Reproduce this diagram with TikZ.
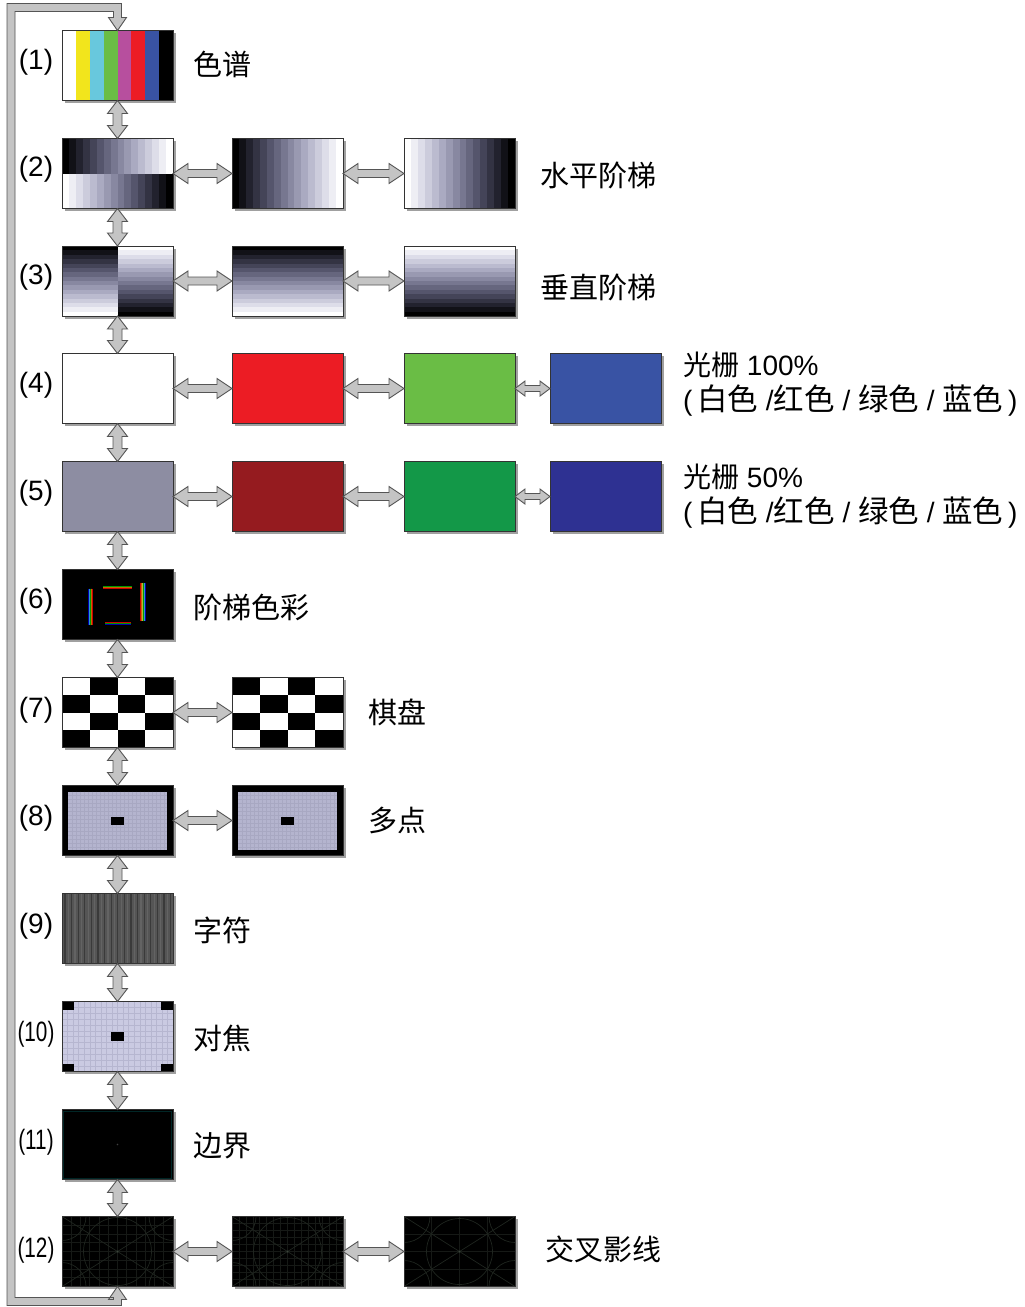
\documentclass[tikz,border=0pt]{standalone}
\usepackage{graphicx}
\usepackage{fontspec}
\setmainfont{Liberation Sans}
\newfontfamily\cjk{Noto Sans CJK SC}
\usetikzlibrary{calc}

\definecolor{arrfill}{HTML}{C4C4C4}
\definecolor{arrline}{HTML}{555555}
\definecolor{frm}{HTML}{333333}
\definecolor{shd}{HTML}{A0A0A0}
\definecolor{cbY}{HTML}{F2E51C}
\definecolor{cbC}{HTML}{68C8DD}
\definecolor{cbG}{HTML}{6ABD45}
\definecolor{cbM}{HTML}{B74F9E}
\definecolor{cbR}{HTML}{EC1C24}
\definecolor{cbB}{HTML}{3953A4}
\definecolor{hR}{HTML}{951B1F}
\definecolor{hG}{HTML}{139848}
\definecolor{hB}{HTML}{2E3192}
\definecolor{hW}{HTML}{8D8DA2}
\definecolor{lav}{HTML}{B4B4CE}
\definecolor{lavgrid}{HTML}{A8A8C2}
\definecolor{lavL}{HTML}{CACAE2}
\definecolor{lavLgrid}{HTML}{B6B6D0}
\definecolor{chG}{HTML}{555555}
\definecolor{chD}{HTML}{3A3A3A}
\definecolor{chL}{HTML}{636363}
\definecolor{xg}{HTML}{161916}
\definecolor{xc}{HTML}{1F251F}
\definecolor{xdot}{HTML}{3C463C}

\newcommand\stepcol[1]{\pgfmathsetmacro\tR{#1}\pgfmathsetmacro\tB{min(1,\tR+0.4*\tR*(1-\tR))}\definecolor{stc}{rgb}{\tR,\tR,\tB}}

\newcommand\varr[2]{\draw[fat] let \p1=(#1),\p2=(#2) in (\x1,\y1) -- (\x1+10pt,\y1-13pt) -- (\x1+4.5pt,\y1-13pt) -- (\x1+4.5pt,\y2+13pt) -- (\x1+10pt,\y2+13pt) -- (\x1,\y2) -- (\x1-10pt,\y2+13pt) -- (\x1-4.5pt,\y2+13pt) -- (\x1-4.5pt,\y1-13pt) -- (\x1-10pt,\y1-13pt) -- cycle;}

\newcommand\harr[5]{\draw[fat] let \p1=(#1),\p2=(#2) in (\x1,\y1) -- (\x1+#3pt,\y1+#4pt) -- (\x1+#3pt,\y1+#5pt) -- (\x2-#3pt,\y1+#5pt) -- (\x2-#3pt,\y1+#4pt) -- (\x2,\y1) -- (\x2-#3pt,\y1-#4pt) -- (\x2-#3pt,\y1-#5pt) -- (\x1+#3pt,\y1-#5pt) -- (\x1+#3pt,\y1-#4pt) -- cycle;}

\newcommand\cj[1]{{\cjk\fontsize{30.5}{33}\selectfont #1}}

\begin{document}
\begin{tikzpicture}[x=1pt,y=-1pt,
  box/.style={minimum width=111pt,minimum height=70pt,inner sep=0pt,outer sep=0pt},
  fat/.style={fill=arrfill,draw=arrline,line width=0.9pt,line join=miter},
  num/.style={font=\fontsize{28}{32}\selectfont,inner sep=0pt},
  lab/.style={font=\cjk\fontsize{29}{33}\selectfont,anchor=west,inner sep=0pt},
  latlab/.style={font=\fontsize{28}{33}\selectfont,anchor=west,inner sep=0pt},
  frame/.style={draw=frm,line width=0.8pt},
  shadow/.style={fill=shd}]
\fill[white] (0,0) rectangle (1025,1307);
\useasboundingbox (0,0) rectangle (1025,1307);

% ---------- boxes (named, invisible) ----------
\node[box] (b1)  at (117.5,65.5) {};
\node[box] (b2a) at (117.5,173.5) {};
\node[box] (b2b) at (287.5,173.5) {};
\node[box] (b2c) at (459.5,173.5) {};
\node[box] (b3a) at (117.5,281) {};
\node[box] (b3b) at (287.5,281) {};
\node[box] (b3c) at (459.5,281) {};
\node[box] (b4a) at (117.5,388.5) {};
\node[box] (b4b) at (287.5,388.5) {};
\node[box] (b4c) at (459.5,388.5) {};
\node[box] (b4d) at (605.5,388.5) {};
\node[box] (b5a) at (117.5,496.5) {};
\node[box] (b5b) at (287.5,496.5) {};
\node[box] (b5c) at (459.5,496.5) {};
\node[box] (b5d) at (605.5,496.5) {};
\node[box] (b6)  at (117.5,604.5) {};
\node[box] (b7a) at (117.5,712.5) {};
\node[box] (b7b) at (287.5,712.5) {};
\node[box] (b8a) at (117.5,820.5) {};
\node[box] (b8b) at (287.5,820.5) {};
\node[box] (b9)  at (117.5,928.5) {};
\node[box] (b10) at (117.5,1036.5) {};
\node[box] (b11) at (117.5,1144.5) {};
\node[box] (b12a) at (117.5,1251.5) {};
\node[box] (b12b) at (287.5,1251.5) {};
\node[box] (b12c) at (459.5,1251.5) {};

% ---------- shadows ----------
\foreach \n in {b1,b2a,b2b,b2c,b3a,b3b,b3c,b4a,b4b,b4c,b4d,b5a,b5b,b5c,b5d,b6,b7a,b7b,b8a,b8b,b9,b10,b11,b12a,b12b,b12c}
  \fill[shadow] ($(\n.north west)+(2.5,2.5)$) rectangle ($(\n.south east)+(2.5,2.5)$);

% ---------- (1) colour bars ----------
\begin{scope}[shift={(b1.north west)}]
  \foreach \c [count=\k from 0] in {white,cbY,cbC,cbG,cbM,cbR,cbB,black}
    \fill[\c] (\k*13.875,0) rectangle (\k*13.875+14.2,70);
\end{scope}

% ---------- (2) horizontal steps ----------
\begin{scope}[shift={(b2a.north west)}]
  \foreach \i in {0,...,15}{\stepcol{\i/15}\fill[stc] (\i*6.9375,0) rectangle (\i*6.9375+7.2,35);
    \stepcol{1-\i/15}\fill[stc] (\i*6.9375,35) rectangle (\i*6.9375+7.2,70);}
\end{scope}
\begin{scope}[shift={(b2b.north west)}]
  \foreach \i in {0,...,15}{\stepcol{\i/15}\fill[stc] (\i*6.9375,0) rectangle (\i*6.9375+7.2,70);}
\end{scope}
\begin{scope}[shift={(b2c.north west)}]
  \foreach \i in {0,...,15}{\stepcol{1-\i/15}\fill[stc] (\i*6.9375,0) rectangle (\i*6.9375+7.2,70);}
\end{scope}

% ---------- (3) vertical steps ----------
\begin{scope}[shift={(b3a.north west)}]
  \foreach \i in {0,...,15}{\stepcol{\i/15}\fill[stc] (0,\i*4.375) rectangle (55.5,\i*4.375+4.6);
    \stepcol{1-\i/15}\fill[stc] (55.5,\i*4.375) rectangle (111,\i*4.375+4.6);}
\end{scope}
\begin{scope}[shift={(b3b.north west)}]
  \foreach \i in {0,...,15}{\stepcol{\i/15}\fill[stc] (0,\i*4.375) rectangle (111,\i*4.375+4.6);}
\end{scope}
\begin{scope}[shift={(b3c.north west)}]
  \foreach \i in {0,...,15}{\stepcol{1-\i/15}\fill[stc] (0,\i*4.375) rectangle (111,\i*4.375+4.6);}
\end{scope}

% ---------- (4) (5) rasters ----------
\fill[white] (b4a.north west) rectangle (b4a.south east);
\fill[cbR] (b4b.north west) rectangle (b4b.south east);
\fill[cbG] (b4c.north west) rectangle (b4c.south east);
\fill[cbB] (b4d.north west) rectangle (b4d.south east);
\fill[hW] (b5a.north west) rectangle (b5a.south east);
\fill[hR] (b5b.north west) rectangle (b5b.south east);
\fill[hG] (b5c.north west) rectangle (b5c.south east);
\fill[hB] (b5d.north west) rectangle (b5d.south east);

% ---------- (6) colour steps ----------
\begin{scope}[shift={(b6.north west)}]
  \fill[black] (0,0) rectangle (111,70);
  \foreach \c [count=\k] in {blue!70!black,cyan!80!black,green!60!black,yellow!70!black,orange!80!black,red!80!black}{
    \pgfmathsetmacro\o{(\k-3.5)*0.9}
    \draw[\c,line width=0.9pt] (28.5+\o,19) -- (28.5+\o,55);
    \draw[\c,line width=0.6pt] (41,17.5+0.5*\o) -- (70,17.5+0.5*\o);
    \draw[\c,line width=0.9pt] (81-\o,13) -- (81-\o,51);
    \draw[\c,line width=0.6pt] (43,53.5-0.5*\o) -- (69,53.5-0.5*\o);
  }
\end{scope}

% ---------- (7) checker ----------
\begin{scope}[shift={(b7a.north west)}]
  \fill[white] (0,0) rectangle (111,70);
  \foreach \r in {0,...,3}\foreach \c in {0,...,3}{
    \pgfmathtruncatemacro\parity{mod(\r+\c,2)}
    \ifnum\parity=1 \fill[black] (\c*27.75,\r*17.5) rectangle (\c*27.75+27.75,\r*17.5+17.5);\fi}
\end{scope}
\begin{scope}[shift={(b7b.north west)}]
  \fill[white] (0,0) rectangle (111,70);
  \foreach \r in {0,...,3}\foreach \c in {0,...,3}{
    \pgfmathtruncatemacro\parity{mod(\r+\c,2)}
    \ifnum\parity=0 \fill[black] (\c*27.75,\r*17.5) rectangle (\c*27.75+27.75,\r*17.5+17.5);\fi}
\end{scope}

% ---------- (8) multi point ----------
\foreach \n in {b8a,b8b}{
\begin{scope}[shift={(\n.north west)}]
  \fill[black] (0,0) rectangle (111,70);
  \fill[lav] (6,6) rectangle (105,64);
  \foreach \x in {10,14,...,102} \draw[lavgrid,line width=0.25pt] (\x,6) -- (\x,64);
  \foreach \y in {10,14,...,62} \draw[lavgrid,line width=0.25pt] (6,\y) -- (105,\y);
  \fill[black] (49,31) rectangle (62,39.5);
\end{scope}}

% ---------- (9) character ----------
\begin{scope}[shift={(b9.north west)}]
  \fill[chG] (0,0) rectangle (111,70);
  \foreach \x in {3,9.6,...,110} \draw[chD,line width=1.1pt] (\x,0) -- (\x,70);
  \foreach \x in {6.3,12.9,...,110} \draw[chL,line width=1.2pt] (\x,0) -- (\x,70);
\end{scope}

% ---------- (10) focus ----------
\begin{scope}[shift={(b10.north west)}]
  \fill[lavL] (0,0) rectangle (111,70);
  \foreach \x in {5.55,11.1,...,108} \draw[lavLgrid,line width=0.35pt] (\x,0) -- (\x,70);
  \foreach \y in {5.83,11.67,...,68} \draw[lavLgrid,line width=0.35pt] (0,\y) -- (111,\y);
  \fill[black] (0,0) rectangle (12,8);
  \fill[black] (99,0) rectangle (111,8);
  \fill[black] (0,62) rectangle (12,70);
  \fill[black] (99,62) rectangle (111,70);
  \fill[black] (49,30.5) rectangle (61.5,39.5);
\end{scope}

% ---------- (11) border ----------
\begin{scope}[shift={(b11.north west)}]
  \fill[black] (0,0) rectangle (111,70);
  \draw[teal!30!black,line width=0.6pt] (1.5,1.5) rectangle (109.5,68.5);
  \fill[gray!50!black] (55.5,35) circle (0.9);
\end{scope}

% ---------- (12) cross hatch ----------
\begin{scope}[shift={(b12a.north west)}]
  \fill[black] (0,0) rectangle (111,70);
  \clip (0,0) rectangle (111,70);
  \foreach \x in {9.25,18.5,...,108} \draw[xg,line width=0.6pt] (\x,0) -- (\x,70);
  \foreach \y in {8.75,17.5,...,68} \draw[xg,line width=0.6pt] (0,\y) -- (111,\y);
  \draw[xc,line width=0.7pt] (0,0) -- (111,70) (111,0) -- (0,70);
  \draw[xc,line width=0.7pt] (55.5,35) circle (34);
  \foreach \p in {(0,0),(111,0),(0,70),(111,70)} \draw[xc,line width=0.7pt] \p circle (24);
  \fill[xdot] (55.5,35) circle (1);
\end{scope}
\begin{scope}[shift={(b12b.north west)}]
  \fill[black] (0,0) rectangle (111,70);
  \clip (0,0) rectangle (111,70);
  \foreach \x in {6.94,13.875,...,108} \draw[xg,line width=0.5pt] (\x,0) -- (\x,70);
  \foreach \y in {7,14,...,68} \draw[xg,line width=0.5pt] (0,\y) -- (111,\y);
  \draw[xc,line width=0.7pt] (0,0) -- (111,70) (111,0) -- (0,70);
  \draw[xc,line width=0.7pt] (55.5,35) circle (34);
  \foreach \p in {(0,0),(111,0),(0,70),(111,70)} \draw[xc,line width=0.7pt] \p circle (24);
  \fill[xdot] (55.5,35) circle (1);
\end{scope}
\begin{scope}[shift={(b12c.north west)}]
  \fill[black] (0,0) rectangle (111,70);
  \clip (0,0) rectangle (111,70);
  \foreach \x in {27.75,55.5,83.25} \draw[xg,line width=0.7pt] (\x,0) -- (\x,70);
  \foreach \y in {17.5,35,52.5} \draw[xg,line width=0.7pt] (0,\y) -- (111,\y);
  \draw[xc,line width=0.7pt] (0,0) -- (111,70) (111,0) -- (0,70);
  \draw[xc,line width=0.7pt] (55.5,35) circle (33);
  \foreach \p in {(0,0),(111,0),(0,70),(111,70)} \draw[xc,line width=0.7pt] \p circle (26);
  \fill[xdot] (55.5,35) circle (1);
\end{scope}

% ---------- frames ----------
\foreach \n in {b1,b2a,b2b,b2c,b3a,b3b,b3c,b4a,b4b,b4c,b4d,b5a,b5b,b5c,b5d,b6,b7a,b7b,b8a,b8b,b9,b10,b11,b12a,b12b,b12c}
  \draw[frame] (\n.north west) rectangle (\n.south east);

% ---------- vertical connectors ----------
\varr{b1.south}{b2a.north}
\varr{b2a.south}{b3a.north}
\varr{b3a.south}{b4a.north}
\varr{b4a.south}{b5a.north}
\varr{b5a.south}{b6.north}
\varr{b6.south}{b7a.north}
\varr{b7a.south}{b8a.north}
\varr{b8a.south}{b9.north}
\varr{b9.south}{b10.north}
\varr{b10.south}{b11.north}
\varr{b11.south}{b12a.north}

% ---------- horizontal connectors ----------
\harr{b2a.east}{b2b.west}{15}{10}{4}
\harr{b2b.east}{b2c.west}{15}{10}{4}
\harr{b3a.east}{b3b.west}{15}{10}{4}
\harr{b3b.east}{b3c.west}{15}{10}{4}
\harr{b4a.east}{b4b.west}{15}{10}{4}
\harr{b4b.east}{b4c.west}{15}{10}{4}
\harr{b4c.east}{b4d.west}{10}{7.5}{3}
\harr{b5a.east}{b5b.west}{15}{10}{4}
\harr{b5b.east}{b5c.west}{15}{10}{4}
\harr{b5c.east}{b5d.west}{10}{7.5}{3}
\harr{b7a.east}{b7b.west}{15}{10}{4}
\harr{b8a.east}{b8b.west}{15}{10}{4}
\harr{b12a.east}{b12b.west}{15}{10}{4}
\harr{b12b.east}{b12c.west}{15}{10}{4}

% ---------- loop connector ----------
\coordinate (lt) at (11,7.5);
\coordinate (lb) at (11,1301.5);
\draw[fat] let \p1=(b1.north), \p2=(b12a.south), \p3=(lt), \p4=(lb) in
  (\x1,\y1) -- (\x1+9pt,\y1+13pt) -- (\x1+4pt,\y1+13pt) -- (\x1+4pt,\y3+4pt)
  -- (\x3-4pt,\y3+4pt) -- (\x3-4pt,\y4-4pt) -- (\x2+4pt,\y4-4pt) -- (\x2+4pt,\y2-13pt)
  -- (\x2+9pt,\y2-13pt) -- (\x2,\y2) -- (\x2-9pt,\y2-13pt) -- (\x2-4pt,\y2-13pt)
  -- (\x2-4pt,\y4+4pt) -- (\x3+4pt,\y4+4pt) -- (\x3+4pt,\y3-4pt) -- (\x1-4pt,\y3-4pt)
  -- (\x1-4pt,\y1+13pt) -- (\x1-9pt,\y1+13pt) -- cycle;

% ---------- numbers ----------
\node[num] (n1) at (36,62) {(1)};
\node[num] (n2) at (36,169) {(2)};
\node[num] (n3) at (36,277) {(3)};
\node[num] (n4) at (36,385) {(4)};
\node[num] (n5) at (36,493) {(5)};
\node[num] (n6) at (36,601) {(6)};
\node[num] (n7) at (36,710) {(7)};
\node[num] (n8) at (36,818) {(8)};
\node[num] (n9) at (36,926) {(9)};
\node[num] (n10) at (36,1034) {\scalebox{0.74}[1]{(10)}};
\node[num] (n11) at (36,1142) {\scalebox{0.74}[1]{(11)}};
\node[num] (n12) at (36,1250) {\scalebox{0.74}[1]{(12)}};

% ---------- labels ----------
\node[lab] (t1) at (193,64) {色谱};
\node[lab] (t2) at (540,175) {水平阶梯};
\node[lab] (t3) at (540,287) {垂直阶梯};
\node[latlab] (t4a) at (683,365) {{\cjk 光栅} 100\%};
\node[latlab] (t4b) at (683,401) {(\,\cj{白色} /\cj{红色} / \cj{绿色} / \cj{蓝色}\,)};
\node[latlab] (t5a) at (683,477) {{\cjk 光栅} 50\%};
\node[latlab] (t5b) at (683,513) {(\,\cj{白色} /\cj{红色} / \cj{绿色} / \cj{蓝色}\,)};
\node[lab] (t6) at (193,607) {阶梯色彩};
\node[lab] (t7) at (368,712) {棋盘};
\node[lab] (t8) at (368,820) {多点};
\node[lab] (t9) at (193,930) {字符};
\node[lab] (t10) at (193,1038) {对焦};
\node[lab] (t11) at (193,1146) {边界};
\node[lab] (t12) at (545,1249) {交叉影线};
\end{tikzpicture}
\end{document}
